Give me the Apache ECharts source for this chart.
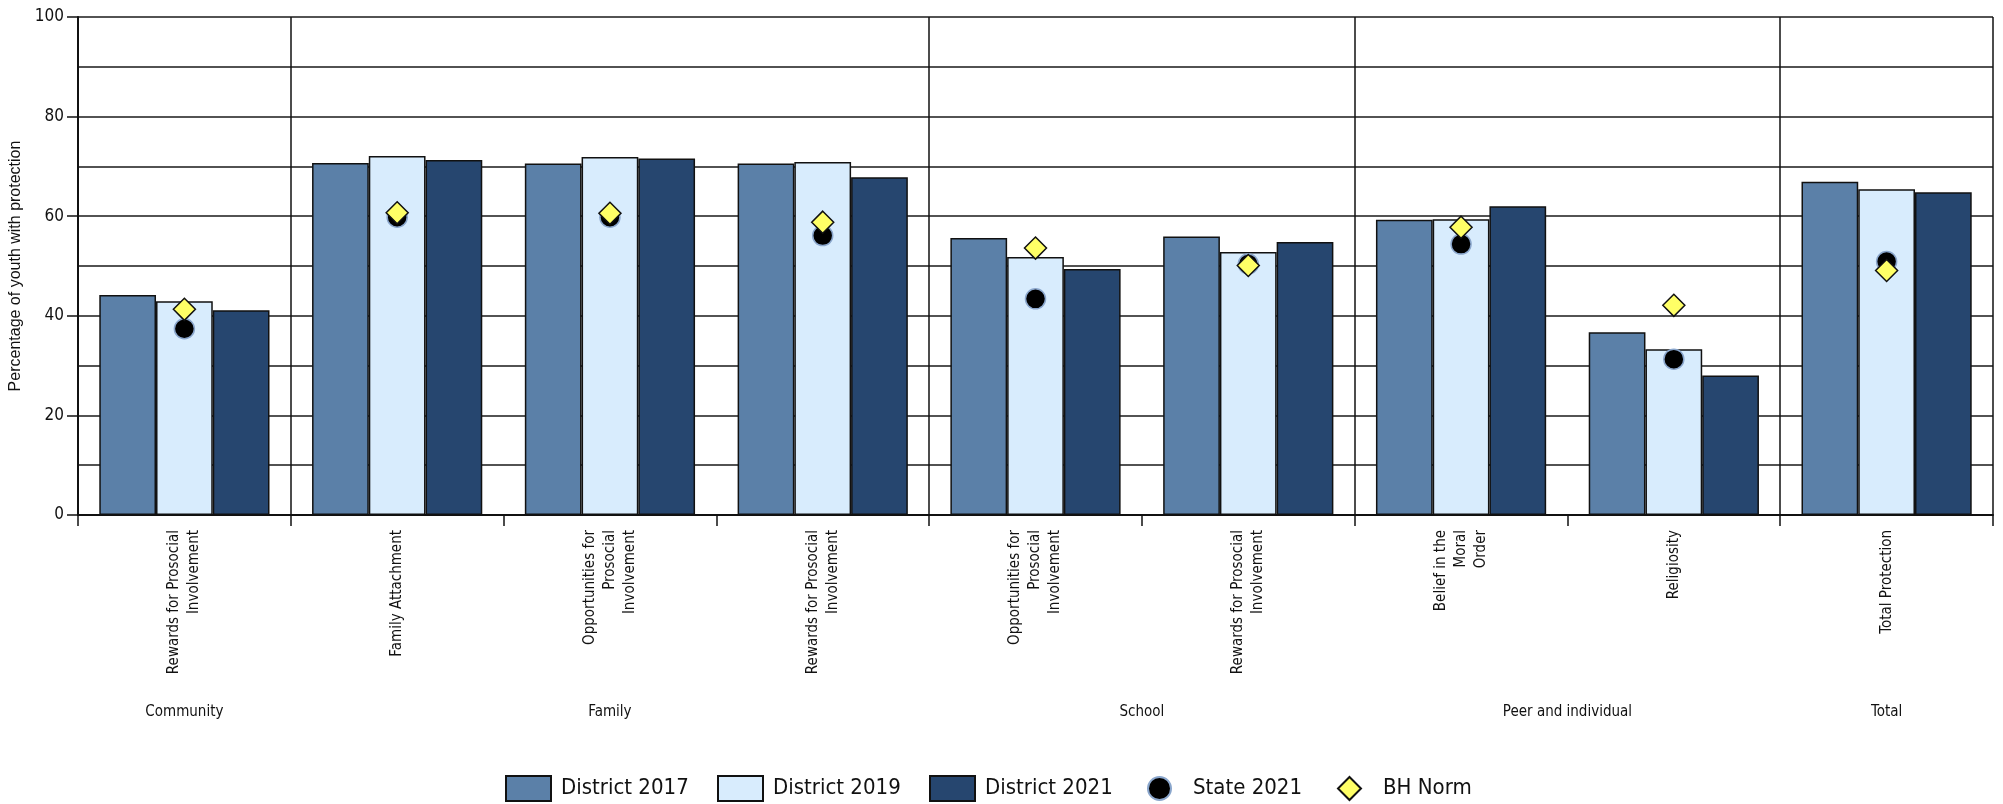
<!DOCTYPE html>
<html>
<head>
<meta charset="utf-8">
<script src="https://cdn.jsdelivr.net/npm/echarts@6/dist/echarts.min.js"></script>
<style>
  html, body { margin: 0; padding: 0; background: #ffffff; }
  #chart { width: 2003px; height: 804px; }
</style>
</head>
<body>
<div id="chart"></div>
<script>
// Protective factor scales, grouped by domain
const categories = [
  'Rewards for Prosocial\nInvolvement',
  'Family Attachment',
  'Opportunities for\nProsocial\nInvolvement',
  'Rewards for Prosocial\nInvolvement',
  'Opportunities for\nProsocial\nInvolvement',
  'Rewards for Prosocial\nInvolvement',
  'Belief in the\nMoral\nOrder',
  'Religiosity',
  'Total Protection'
];

// Domain names, their centre positions and right-hand boundaries (in category units)
const groups = ['Community', 'Family', 'School', 'Peer and individual', 'Total'];
const groupCenters = [0.5, 2.5, 5, 7, 8.5];
const groupBounds = [1, 4, 6, 8, 9];

// Percentage of youth with protection
const district2017 = [44.2, 70.7, 70.6, 70.6, 55.6, 55.9, 59.3, 36.7, 66.9];
const district2019 = [42.9, 72.1, 71.9, 70.9, 51.8, 52.8, 59.4, 33.3, 65.4];
const district2021 = [41.1, 71.3, 71.6, 67.8, 49.4, 54.8, 62.0, 28.0, 64.8];
const state2021    = [37.4, 59.8, 59.8, 56.1, 43.4, 50.4, 54.4, 31.3, 50.9];
const bhNorm       = [41.3, 60.7, 60.6, 58.8, 53.6, 50.1, 57.8, 42.1, 49.1];

const yTicks = [0, 20, 40, 60, 80, 100];

const NARROW = "'DejaVu Sans Condensed', 'Liberation Sans', sans-serif";
const INK = '#111111';

const chart = echarts.init(document.getElementById('chart'), null, { renderer: 'canvas' });

function barSeries(name, data, color) {
  return {
    name: name,
    type: 'bar',
    data: data,
    barGap: '0%',
    barCategoryGap: '20%',
    itemStyle: { color: color, borderColor: INK, borderWidth: 1.5 },
    emphasis: { disabled: true },
    z: 2
  };
}

// One legend block per entry so each sits at its own spot along the bottom row
function legendItem(name, left, isBar) {
  return {
    data: [name],
    left: left,
    top: isBar ? 775 : 776,
    icon: isBar ? 'rect' : undefined,
    itemWidth: isBar ? 45 : 23,
    itemHeight: isBar ? 25 : 23,
    padding: 0,
    selectedMode: false,
    textStyle: {
      fontFamily: NARROW, fontSize: 22, color: INK,
      padding: [0, 0, 0, isBar ? 5 : 17]
    }
  };
}

const option = {
  animation: false,
  backgroundColor: '#ffffff',
  grid: { left: 78, right: 10, top: 17, bottom: 289, containLabel: false, outerBoundsMode: 'none' },
  legend: [
    legendItem('District 2017', 505, true),
    legendItem('District 2019', 717, true),
    legendItem('District 2021', 929, true),
    legendItem('State 2021', 1147, false),
    legendItem('BH Norm', 1337, false)
  ],
  xAxis: [
    {
      type: 'category',
      data: categories,
      position: 'bottom',
      axisLine: { show: true, lineStyle: { color: INK, width: 2 } },
      axisTick: { show: true, length: 11, interval: 0, lineStyle: { color: INK, width: 1.5 } },
      axisLabel: {
        interval: 0,
        rotate: 90,
        margin: 15,
        fontFamily: NARROW,
        fontSize: 15,
        lineHeight: 20,
        color: INK
      },
      splitLine: { show: false }
    },
    {
      // Domain labels and separators share the same horizontal extent
      type: 'value',
      min: 0, max: 9, interval: 0.5,
      position: 'bottom',
      axisLine: { show: false },
      axisTick: { show: false },
      splitLine: { show: false },
      axisLabel: {
        margin: 190,
        fontFamily: NARROW,
        fontSize: 15,
        color: INK,
        showMinLabel: true,
        showMaxLabel: true,
        formatter: function (v) {
          for (let i = 0; i < groupCenters.length; i++) {
            if (Math.abs(v - groupCenters[i]) < 1e-6) return groups[i];
          }
          return '';
        }
      }
    }
  ],
  yAxis: {
    type: 'value',
    min: yTicks[0], max: yTicks[yTicks.length - 1], interval: 20,
    name: 'Percentage of youth with protection',
    nameLocation: 'middle',
    nameRotate: 90,
    nameGap: 50,
    nameTextStyle: { fontFamily: "'Liberation Sans', sans-serif", fontSize: 16, color: INK },
    axisLine: { show: true, lineStyle: { color: INK, width: 2 } },
    axisTick: { show: true, length: 11, lineStyle: { color: INK, width: 1.5 } },
    axisLabel: { fontFamily: NARROW, fontSize: 17, color: INK, margin: 14 },
    splitLine: { show: true, lineStyle: { color: '#1a1a1a', width: 1.5 } },
    minorTick: { show: false, splitNumber: 2 },
    minorSplitLine: { show: true, lineStyle: { color: '#1a1a1a', width: 1.5 } }
  },
  series: [
    barSeries('District 2017', district2017, '#5b80a8'),
    barSeries('District 2019', district2019, '#d8ecfd'),
    barSeries('District 2021', district2021, '#26466f'),
    {
      name: 'State 2021',
      type: 'scatter',
      data: state2021,
      symbol: 'circle',
      symbolSize: 20,
      itemStyle: { color: '#000000', borderColor: '#8aa6cc', borderWidth: 1.5, opacity: 1 },
      emphasis: { disabled: true },
      z: 4
    },
    {
      name: 'BH Norm',
      type: 'scatter',
      data: bhNorm,
      symbol: 'diamond',
      symbolSize: [22, 22],
      itemStyle: { color: '#ffff66', borderColor: INK, borderWidth: 1.5, opacity: 1 },
      emphasis: { disabled: true },
      z: 5
    },
    {
      // Vertical separators between domains
      type: 'line',
      xAxisIndex: 1,
      data: [],
      silent: true,
      markLine: {
        silent: true,
        symbol: ['none', 'none'],
        label: { show: false },
        animation: false,
        lineStyle: { color: INK, width: 1.5, type: 'solid' },
        emphasis: { disabled: true },
        data: groupBounds.map(function (b) { return { xAxis: b }; })
      },
      z: 3
    }
  ]
};

chart.setOption(option);
</script>
</body>
</html>
